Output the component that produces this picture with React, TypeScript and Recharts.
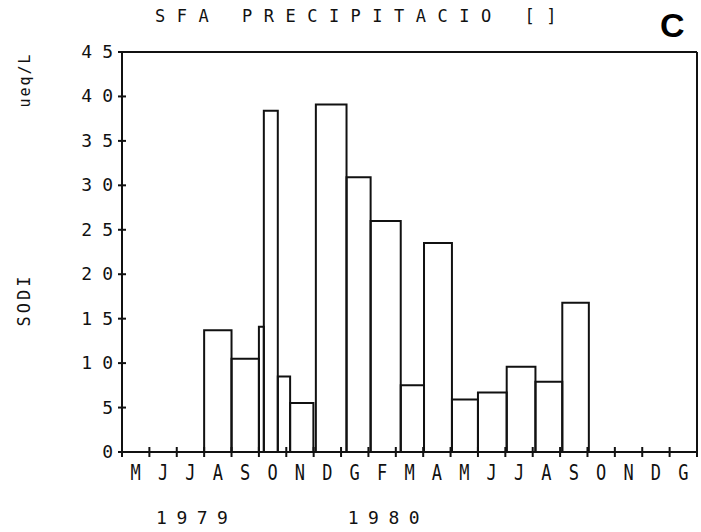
import React from 'react';
import { ComposedChart, XAxis, YAxis, ReferenceArea, ReferenceLine } from 'recharts';

// month initials (Catalan), May 1979 .. January 1981
const months = ['M', 'J', 'J', 'A', 'S', 'O', 'N', 'D', 'G', 'F', 'M', 'A', 'M', 'J', 'J', 'A', 'S', 'O', 'N', 'D', 'G'];
const yearText = ['1979', '1980'];
const yearMonth = [1, 8];

// each sample covers a period [start, end) in months since 1 May 1979
const sampleStart = [3, 4, 5, 5.18, 5.69, 6.14, 7.08, 8.2, 9.08, 10.18, 11.03, 12.05, 13.0, 14.05, 15.1, 16.08];
const sampleEnd = [4, 5, 5.18, 5.69, 6.14, 6.99, 8.2, 9.08, 10.18, 11.03, 12.05, 13.0, 14.05, 15.1, 16.08, 17.05];
const sodi = [13.7, 10.5, 14.1, 38.4, 8.5, 5.5, 39.1, 30.9, 26.0, 7.5, 23.5, 5.9, 6.7, 9.6, 7.9, 16.8];

const yTicks = [0, 5, 10, 15, 20, 25, 30, 35, 40, 45];

const samples = sodi.map((v, i) => ({ start: sampleStart[i], end: sampleEnd[i], value: v }));
const xTicks = Array.from({ length: months.length * 2 + 1 }, (_, i) => i / 2);

const INK = '#111';
const MONO = '"DejaVu Sans Mono", monospace';

const MonthTick = ({ x, y, payload }: any) => {
  const v = payload.value as number;
  if (Number.isInteger(v)) {
    return <line x1={x} x2={x} y1={y - 5} y2={y + 5} stroke={INK} strokeWidth={2} />;
  }
  const idx = Math.floor(v);
  const yi = yearMonth.indexOf(idx);
  return (
    <g>
      <text
        transform={`translate(${x},${y + 28}) scale(1,1.25)`}
        textAnchor="middle"
        fontFamily={MONO}
        fontSize={17}
        fill={INK}
      >
        {months[idx]}
      </text>
      {yi >= 0 && (
        <text x={x - 7} y={y + 72} textAnchor="start" fontFamily={MONO} fontSize={18} letterSpacing={9.5} fill={INK}>
          {yearText[yi]}
        </text>
      )}
    </g>
  );
};

// letter-spacing also trails the last glyph, so the anchor sits that much further right
const ValueTick = ({ x, y, payload }: any) => (
  <g>
    <line x1={x - 4} x2={x + 4} y1={y} y2={y} stroke={INK} strokeWidth={2} />
    <text x={x + 1} y={y + 6} textAnchor="end" fontFamily={MONO} fontSize={18} letterSpacing={10} fill={INK}>
      {payload.value}
    </text>
  </g>
);

export default function App() {
  return (
    <div style={{ position: 'fixed', left: 0, top: 0, width: 701, height: 532, background: '#fff' }}>
      <ComposedChart
        width={701}
        height={532}
        data={samples}
        margin={{ top: 52, right: 4, left: 62, bottom: 50 }}
      >
        <XAxis
          type="number"
          dataKey="start"
          domain={[0, months.length]}
          ticks={xTicks}
          interval={0}
          tickSize={0}
          tickMargin={0}
          tickLine={false}
          tick={<MonthTick />}
          axisLine={{ stroke: INK, strokeWidth: 2 }}
          height={30}
          allowDataOverflow
        />
        <YAxis
          type="number"
          domain={[0, 45]}
          ticks={yTicks}
          interval={0}
          tickSize={0}
          tickMargin={0}
          tickLine={false}
          tick={<ValueTick />}
          axisLine={{ stroke: INK, strokeWidth: 2 }}
          width={60}
          allowDataOverflow
        />
        <ReferenceLine y={45} stroke={INK} strokeWidth={2} />
        <ReferenceLine x={months.length} stroke={INK} strokeWidth={2} />
        {samples.map((s, i) => (
          <ReferenceArea
            key={i}
            x1={s.start}
            x2={s.end}
            y1={0}
            y2={s.value}
            fill="none"
            fillOpacity={0}
            stroke={INK}
            strokeWidth={2}
          />
        ))}
      </ComposedChart>

      <svg width={701} height={532} style={{ position: 'absolute', left: 0, top: 0, pointerEvents: 'none' }}>
        <text x={155} y={22} fontFamily={MONO} fontSize={17} letterSpacing={11.5} fill={INK}>
          SFA PRECIPITACIO []
        </text>
        <text x={660} y={37} fontFamily='"Liberation Sans", Arial, sans-serif' fontWeight="bold" fontSize={34} fill="#000">
          C
        </text>
        <text transform="translate(30,300) rotate(-90)" textAnchor="middle" fontFamily={MONO} fontSize={17} letterSpacing={3} fill={INK}>
          SODI
        </text>
        <text transform="translate(30,80) rotate(-90)" textAnchor="middle" fontFamily={MONO} fontSize={15} letterSpacing={2} fill={INK}>
          ueq/L
        </text>
      </svg>
    </div>
  );
}
